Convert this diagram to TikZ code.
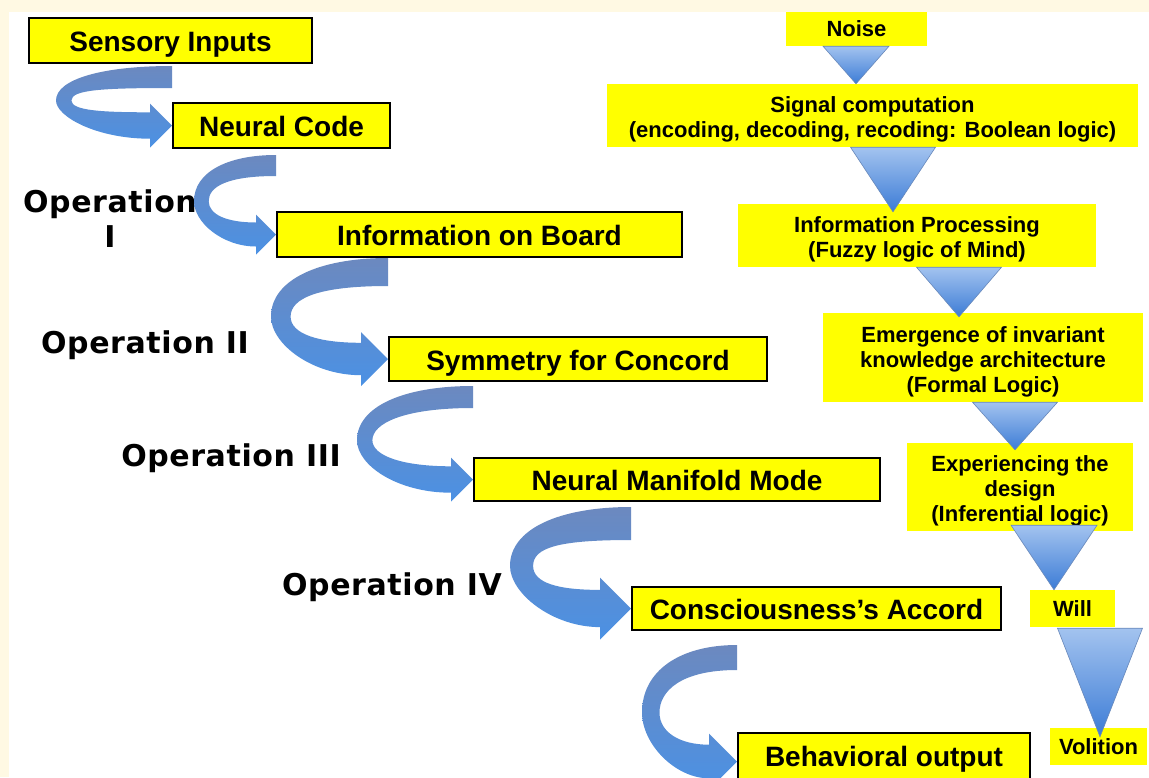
\documentclass[tikz,border=0pt]{standalone}
\usepackage{fontspec}
\setmainfont{Liberation Sans}
\newfontfamily\handfont[LetterSpace=2]{DejaVu Sans}
\usetikzlibrary{calc}

\definecolor{boxyellow}{HTML}{FFFF00}
\definecolor{pagecream}{HTML}{FFF9E3}
\definecolor{ribtop}{HTML}{6C89BF}
\definecolor{ribbot}{HTML}{4B91E4}
\definecolor{tritop}{HTML}{A3C3EF}
\definecolor{tribot}{HTML}{3C7CD6}
\definecolor{tribord}{HTML}{6888BA}
\newcommand\topstrut{\rule{0pt}{24pt}}

% curved ribbon arrow: src, tgt, sweep, gap below src, band width, head half-height
\newcommand\bendarrow[6]{%
  \path[ribbonfill] let \p1=(#2.west), \p2=(#1.south),
    \n1={\y2-#4pt}, \n2={\y2-#4pt-\y1} in
    (\x1,\n1) .. controls ({\x1-0.6*#3pt},\n1) and ({\x1-#3pt},{\n1-0.22*\n2}) ..
    ({\x1-#3pt},{\n1-0.58*\n2}) .. controls ({\x1-#3pt},{\n1-0.85*\n2}) and ({\x1-0.65*#3pt},{\y1-0.6*#6pt}) ..
    ({\x1-#6pt},{\y1-0.6*#6pt}) -- ({\x1-#6pt},{\y1-#6pt}) -- (\x1,\y1) -- ({\x1-#6pt},{\y1+#6pt}) -- ({\x1-#6pt},{\y1+0.6*#6pt})
    .. controls ({\x1-0.6*#3pt},{\y1+0.6*#6pt}) and ({\x1-#3pt+0.7*#5pt},{\n1-0.75*\n2}) ..
    ({\x1-#3pt+0.7*#5pt},{\n1-0.58*\n2}) .. controls ({\x1-#3pt+0.7*#5pt},{\n1-0.4*\n2}) and ({\x1-0.6*#3pt},{\n1-#5pt}) ..
    (\x1,{\n1-#5pt}) -- cycle;}
% down triangle: src, tgt, x, half width, top overlap, tip overlap
\newcommand\droparrow[6]{%
  \path[droptri] let \p1=(#1.south), \p2=(#2.north) in
    ({#3pt-#4pt},{\y1+#5pt}) -- ({#3pt+#4pt},{\y1+#5pt}) -- (#3pt,{\y2-#6pt}) -- cycle;}

\begin{document}
\begin{tikzpicture}[x=1pt,y=-1pt,
  stage/.style={draw=black,line width=2pt,fill=boxyellow,inner sep=0pt,
    font=\fontsize{28}{32}\selectfont\bfseries,text height=22pt,text depth=0pt},
  level/.style={fill=boxyellow,inner sep=0pt,align=center,
    font=\fontsize{22}{25}\selectfont\bfseries},
  oplabel/.style={inner sep=0pt,align=center,
    font=\handfont\bfseries\fontsize{30}{35}\selectfont},
  ribbonfill/.style={top color=ribtop,bottom color=ribbot},
  droptri/.style={draw=tribord,line width=0.6pt,top color=tritop,bottom color=tribot}]
\useasboundingbox (0,0) rectangle (1149,777);
\fill[pagecream] (0,0) rectangle (1149,777);
\fill[white] (9,12) rectangle (1149,777);

% ---- left column: stages ----
\node[stage,minimum width=283pt,minimum height=45pt] (sens) at (170.5,40.5) {Sensory Inputs};
\node[stage,minimum width=217pt,minimum height=45pt] (code) at (281.5,125.5) {Neural Code};
\node[stage,minimum width=405pt,minimum height=45pt] (board) at (479.5,234.5) {Information on Board};
\node[stage,minimum width=378pt,minimum height=44pt] (symm) at (578,359) {Symmetry for Concord};
\node[stage,minimum width=406pt,minimum height=43pt] (manif) at (677,479.5) {Neural Manifold Mode};
\node[stage,minimum width=369pt,minimum height=43pt] (accord) at (816.5,608.5) {Consciousness’s Accord};
\node[stage,minimum width=292pt,minimum height=57pt,text depth=13pt] (behav) at (884,761.5) {Behavioral output};

\node[oplabel] (op1) at (110,219) {Operation\\I};
\node[oplabel] (op2) at (145,345) {Operation II};
\node[oplabel] (op3) at (231,458) {Operation III};
\node[oplabel] (op4) at (392,587) {Operation IV};

\bendarrow{sens}{code}{116}{2}{22}{22}
\bendarrow{code}{board}{82}{6}{21}{20}
\bendarrow{board}{symm}{117}{0}{28}{27}
\bendarrow{symm}{manif}{116}{4}{22}{22}
\bendarrow{manif}{accord}{121}{5}{33}{31}
\bendarrow{accord}{behav}{95}{14}{25}{28}

% ---- right column: levels ----
\node[level,minimum width=141pt,minimum height=34pt] (noise) at (856.5,29) {Noise};
\node[level,minimum width=531pt,minimum height=63pt] (signal) at (872.5,115.5) {\topstrut Signal computation\\(encoding, decoding, recoding: Boolean logic)};
\node[level,minimum width=358pt,minimum height=63pt] (infop) at (917,235.5) {\topstrut Information Processing\\(Fuzzy logic of Mind)};
\node[level,minimum width=320pt,minimum height=89pt] (emerg) at (983,357.5) {\topstrut Emergence of invariant\\knowledge architecture\\(Formal Logic)};
\node[level,minimum width=226pt,minimum height=88pt] (exper) at (1020,487) {\topstrut Experiencing the\\design\\(Inferential logic)};
\node[level,minimum width=85pt,minimum height=37pt] (will) at (1072.5,608.5) {Will};
\node[level,minimum width=97pt,minimum height=37pt] (volit) at (1098.5,746.5) {Volition};

\droparrow{noise}{signal}{856}{33}{0}{0}
\droparrow{signal}{infop}{893}{42.5}{0}{8}
\droparrow{infop}{emerg}{959}{42.5}{0}{4}
\droparrow{emerg}{exper}{1015}{42.5}{0}{7}
\droparrow{exper}{will}{1054}{43}{6}{0}
\droparrow{will}{volit}{1100}{42.5}{-1}{9}
\end{tikzpicture}
\end{document}
